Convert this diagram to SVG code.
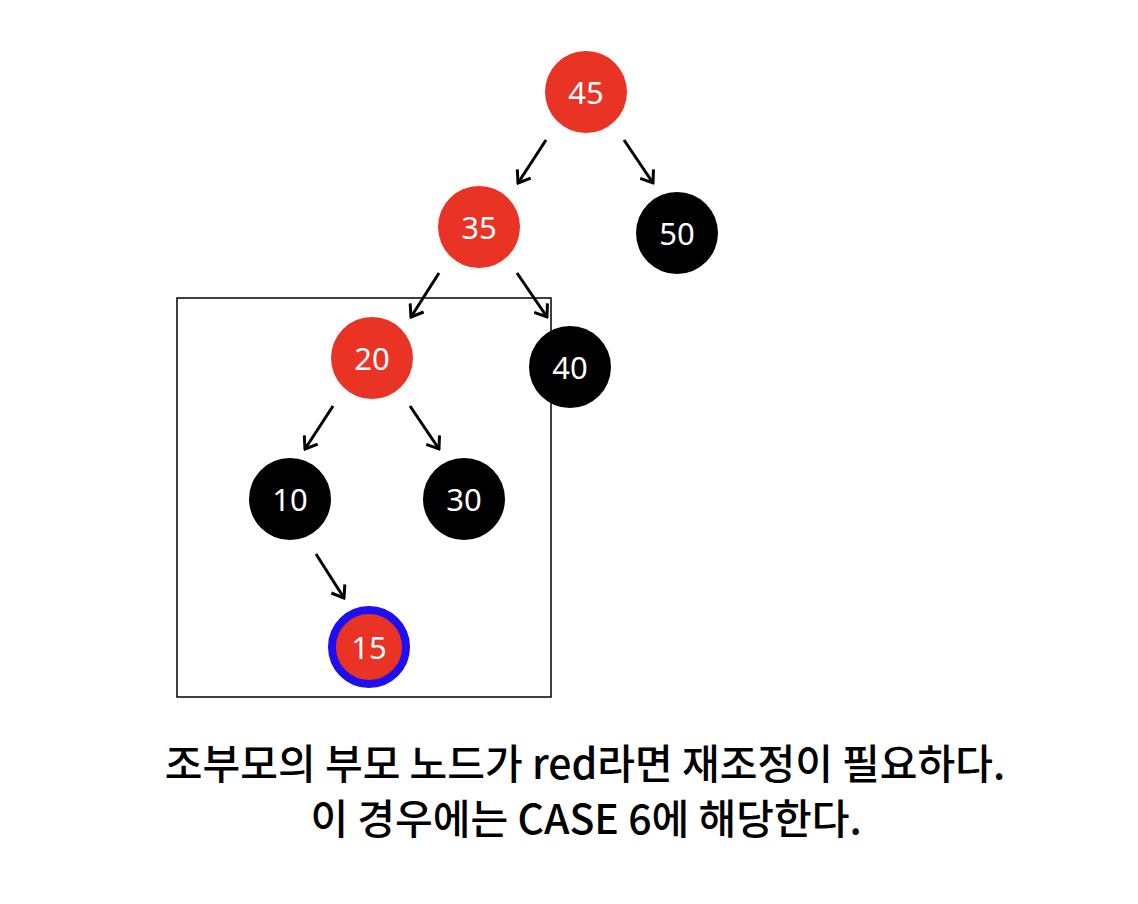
<svg xmlns="http://www.w3.org/2000/svg" width="1138" height="904" viewBox="0 0 1138 904">
<style>
.red{fill:#e93324}
.blk{fill:#000}
.lbl{fill:#fff;font-family:"Noto Sans","Open Sans",sans-serif;font-size:31px;text-anchor:middle;dominant-baseline:central}
.edge{stroke:#000;stroke-width:3;fill:none;marker-end:url(#ah)}
.cap{font-family:"Noto Sans CJK KR","Noto Sans",sans-serif;font-size:41px;font-weight:500;text-anchor:middle;fill:#000}
</style>
<defs>
<marker id="ah" viewBox="-12 -9 14 18" markerWidth="14" markerHeight="18" refX="0" refY="0" orient="auto" markerUnits="userSpaceOnUse">
<path d="M-11,-8 L0,0 L-11,8" fill="none" stroke="#000" stroke-width="3"/>
</marker>
</defs>
<rect x="177" y="298" width="374" height="399" fill="none" stroke="#000" stroke-width="1.5"/>
<g id="connectors">
<line class="edge" x1="546" y1="140" x2="518" y2="183"/>
<line class="edge" x1="624" y1="140" x2="653" y2="183"/>
<line class="edge" x1="439" y1="273" x2="411" y2="317"/>
<line class="edge" x1="517" y1="273" x2="547" y2="317"/>
<line class="edge" x1="333" y1="406" x2="305" y2="449"/>
<line class="edge" x1="410" y1="406" x2="439" y2="449"/>
<line class="edge" x1="316" y1="554" x2="344" y2="598"/>
</g>
<g id="n45"><circle class="red" cx="586" cy="92" r="41"/><text class="lbl" x="586" y="92">45</text></g>
<g id="n35"><circle class="red" cx="479" cy="227" r="41"/><text class="lbl" x="479" y="227">35</text></g>
<g id="n50"><circle class="blk" cx="677" cy="233" r="41"/><text class="lbl" x="677" y="233">50</text></g>
<g id="n20"><circle class="red" cx="372" cy="358" r="41"/><text class="lbl" x="372" y="358">20</text></g>
<g id="n40"><circle class="blk" cx="570" cy="367" r="41"/><text class="lbl" x="570" y="367">40</text></g>
<g id="n10"><circle class="blk" cx="290" cy="499" r="41"/><text class="lbl" x="290" y="499">10</text></g>
<g id="n30"><circle class="blk" cx="464" cy="499" r="41"/><text class="lbl" x="464" y="499">30</text></g>
<g id="n15"><circle class="red" cx="369" cy="647" r="37" stroke="#1e0ff0" stroke-width="8"/><text class="lbl" x="369" y="647">15</text></g>
<g id="caption">
<text class="cap" x="585" y="779">조부모의 부모 노드가 red라면 재조정이 필요하다.</text>
<text class="cap" x="586" y="834">이 경우에는 CASE 6에 해당한다.</text>
</g>
</svg>
